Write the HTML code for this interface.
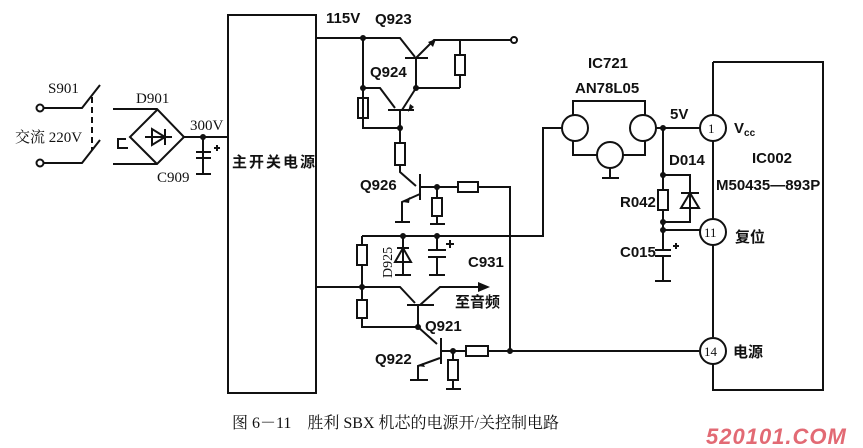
<!DOCTYPE html>
<html><head><meta charset="utf-8"><style>
html,body{margin:0;padding:0;background:#fff;}
svg{display:block;}
text{font-family:"Liberation Serif","Noto Serif CJK SC",serif;fill:#111;}
.b{font-weight:bold;font-family:"Liberation Sans","Noto Sans CJK SC",sans-serif;}
</style></head><body>
<svg width="863" height="448" viewBox="0 0 863 448" xmlns="http://www.w3.org/2000/svg">
<g stroke="#111" stroke-width="2" fill="none">
<!-- main box -->
<rect x="228" y="15" width="88" height="378"/>
<!-- input -->
<circle cx="40" cy="108" r="3.5"/><circle cx="40" cy="163" r="3.5"/>
<path d="M44 108H82L100 85M44 163H82L100 140"/>
<path d="M92 97V150" stroke-dasharray="6,4"/>
<path d="M113 109H157L184 137L157 164H113M157 110L130 137L157 164"/>
<path d="M145 137H172M152 129V145L165 137Z M165 129V145"/>
<path d="M118 148V139H126M117 148H128"/>
<path d="M184 137H228M203 137V173M196 152H211M196 158H211M196 174H211M214 148H220M217 145V151"/>
<!-- 115V line & Q923 -->
<path d="M316 38H400L415 57M405 58H428M416 58L434 40H511"/>
<circle cx="514" cy="40" r="3"/>
<path d="M460 40V55M460 75V88M416 58V88H460"/>
<rect x="455" y="55" width="10" height="20"/>
<!-- Q924 -->
<path d="M363 38V128M363 88H380L395 108M388 110H414M402 110L416 88M400 110V128M363 118V128H400"/>
<rect x="358" y="98" width="10" height="20"/>
<path d="M400 128V143M400 165V172L416 186"/>
<rect x="395" y="143" width="10" height="22"/>
<!-- Q926 -->
<path d="M420 174V200M420 187H458M478 187H510V351M420 194L402 202V222M395 222H410M437 187V198M437 216V224M430 224H445"/>
<rect x="458" y="182" width="20" height="10"/><rect x="432" y="198" width="10" height="18"/>
<!-- 236 line -->
<path d="M362 236H543V128H562M362 236V245M362 265V300M362 318V327H418"/>
<rect x="357" y="245" width="10" height="20"/><rect x="357" y="300" width="10" height="18"/>
<path d="M403 236V275M395 275H411M397 248L409 248M395 262H411L403 248Z M437 236V250M428 250H446M428 257H446M437 257V275M429 275H445M446 244H454M450 240V248"/>
<!-- Q921 -->
<path d="M316 287H400L415 303M407 305H434M420 305L440 287H478M418 305V327"/>
<!-- Q922 -->
<path d="M418 327L437 344M441 338V364M441 351H466M488 351H699M440 358L418 366V380M410 380H428M453 351V360M453 380V389M446 389H461"/>
<rect x="466" y="346" width="22" height="10"/><rect x="448" y="360" width="10" height="20"/>
<!-- IC721 -->
<circle cx="575" cy="128" r="13"/><circle cx="643" cy="128" r="13"/><circle cx="610" cy="155" r="13"/>
<path d="M573 115V101H645V115M573 141V155H597M623 155H645V141M610 168V178M602 178H619"/>
<path d="M656 128H700M663 128V190M663 210V250M655 250H671M655 256H671M663 256V281M655 281H671M673 246H679M676 243V249"/>
<rect x="658" y="190" width="10" height="20"/>
<path d="M663 175H690V222H663M681 208H699L690 193ZM681 193H699M663 230H700"/>
<!-- IC002 -->
<path d="M713 62H823V390H713V364M713 337V245M713 219V141M713 115V62"/>
<circle cx="713" cy="128" r="13"/><circle cx="713" cy="232" r="13"/><circle cx="713" cy="351" r="13"/>
</g>
<g fill="#111">
<circle cx="363" cy="38" r="3"/><circle cx="416" cy="88" r="3"/><circle cx="363" cy="88" r="3"/><circle cx="400" cy="128" r="3"/>
<circle cx="437" cy="187" r="3"/><circle cx="403" cy="236" r="3"/><circle cx="437" cy="236" r="3"/><circle cx="362" cy="287" r="3"/>
<circle cx="418" cy="327" r="3"/><circle cx="453" cy="351" r="3"/><circle cx="510" cy="351" r="3"/><circle cx="203" cy="137" r="3"/>
<circle cx="663" cy="128" r="3"/><circle cx="663" cy="175" r="3"/><circle cx="663" cy="222" r="3"/><circle cx="663" cy="230" r="3"/>
<path d="M478 282L490 287L478 292Z"/>
<path d="M428 42L436 39L433 47Z"/>
<path d="M408 112L414 107L410 104Z"/>
<path d="M423 363L418 366L425 367Z"/>
<path d="M410 197L403 202L409 203Z"/>
</g>
<g font-size="15">
<text x="326" y="23" class="b">115V</text>
<text x="375" y="24" class="b">Q923</text>
<text x="370" y="77" class="b">Q924</text>
<text x="360" y="190" class="b">Q926</text>
<text x="48" y="93">S901</text>
<text x="136" y="103">D901</text>
<text x="190" y="130">300V</text>
<text x="157" y="182">C909</text>
<text x="15" y="142">交流 220V</text>
<text x="232" y="167" class="b" letter-spacing="2">主开关电源</text>
<text x="468" y="267" class="b">C931</text>
<text x="455" y="307" class="b">至音频</text>
<text x="425" y="331" class="b">Q921</text>
<text x="375" y="364" class="b">Q922</text>
<text x="392" y="278" transform="rotate(-90 392 278)" font-size="14">D925</text>
<text x="588" y="68" class="b">IC721</text>
<text x="575" y="93" class="b">AN78L05</text>
<text x="670" y="119" class="b">5V</text>
<text x="669" y="165" class="b">D014</text>
<text x="620" y="207" class="b">R042</text>
<text x="620" y="257" class="b">C015</text>
<text x="708" y="133" font-size="13">1</text>
<text x="704" y="237" font-size="13">11</text>
<text x="704" y="356" font-size="13">14</text>
<text x="734" y="133" class="b">V<tspan font-size="10" dy="3">cc</tspan></text>
<text x="752" y="163" class="b">IC002</text>
<text x="716" y="190" class="b">M50435—893P</text>
<text x="735" y="242" class="b">复位</text>
<text x="733" y="357" class="b">电源</text>
<text x="232" y="428" font-size="16">图 6－11　胜利 SBX 机芯的电源开/关控制电路</text>
</g>
<text x="706" y="444" font-size="22" font-style="italic" font-weight="bold" style="font-family:'Liberation Sans',sans-serif;fill:#e26a74" letter-spacing="1">520101.COM</text>
</svg>
</body></html>
